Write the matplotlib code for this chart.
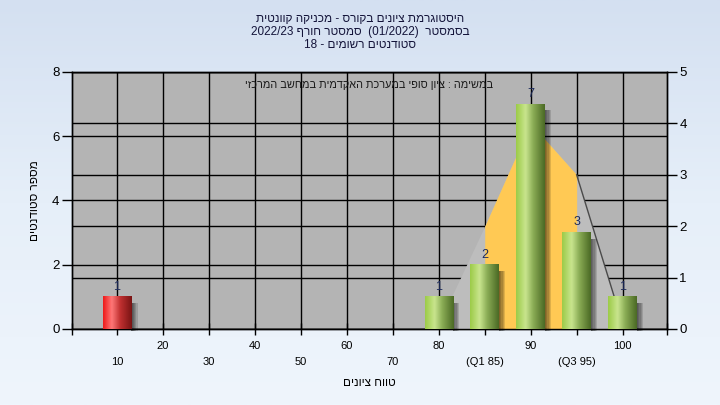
import numpy as np
import matplotlib
matplotlib.use("Agg")
import matplotlib.pyplot as plt
from matplotlib.colors import LinearSegmentedColormap
from matplotlib.patches import Rectangle

plt.rcParams["font.family"] = ["Liberation Sans", "DejaVu Sans"]

# data
categories = ["10", "20", "30", "40", "50", "60", "70", "80", "(Q1 85)", "90", "(Q3 95)", "100"]
counts = [1, 0, 0, 0, 0, 0, 0, 1, 2, 7, 3, 1]
curve_idx = [7, 8, 9, 10, 11]
curve_vals = [0.1, 2.0, 4.0, 3.0, 0.1]   # right axis units
q1_idx, q3_idx = 8, 10
fail_idx = [0]


def rev(s):
    # matplotlib has no bidi, so give Hebrew in visual order
    return s[::-1]


title_lines = [
    rev("היסטוגרמת ציונים בקורס - מכניקה קוונטית"),
    "2022/23 " + rev("סמסטר חורף") + "  (01/2022)  " + rev("בסמסטר"),
    "18 - " + rev("סטודנטים רשומים"),
]
note = rev("במשימה : ציון סופי במערכת האקדמית במחשב המרכזי")
xlabel = rev("טווח ציונים")
ylabel = rev("מספר סטודנטים")

green = LinearSegmentedColormap.from_list(
    "g", [(0, "#9ccb48"), (0.33, "#c9e58e"), (0.6, "#8aac55"), (1, "#4b6a25")])
red = LinearSegmentedColormap.from_list(
    "r", [(0, "#ee1a1a"), (0.3, "#ff7878"), (0.6, "#c03030"), (1, "#7a1414")])

fig = plt.figure(figsize=(7.2, 4.05), dpi=100)

bg = fig.add_axes([0, 0, 1, 1], zorder=-10)
bg.imshow(np.linspace(0, 1, 256).reshape(-1, 1),
          cmap=LinearSegmentedColormap.from_list("bg", ["#d4e0f1", "#e6eff9", "#eff5fc"]),
          aspect="auto", extent=(0, 1, 0, 1))
bg.set_axis_off()

ax = fig.add_axes([0.1, 0.1877, 0.826, 0.6346])
ax2 = ax.twinx()
ax.set_zorder(ax2.get_zorder() + 1)
ax.patch.set_visible(False)
ax2.patch.set_visible(True)
ax2.patch.set_facecolor("#b4b4b4")

x = np.arange(len(categories))
width = 0.62

# gridlines
ax.set_axisbelow(True)
ax.grid(True, color="black", lw=1)
ax2.grid(True, axis="y", color="black", lw=1)

# normal-curve area (right axis scale) covering the grid
tr = ax2.transData
ax.fill_between(curve_idx, 0, curve_vals, color="#bdbdbd", lw=0, zorder=1, transform=tr)
sel = [i for i, c in enumerate(curve_idx) if q1_idx <= c <= q3_idx]
ax.fill_between([curve_idx[i] for i in sel], 0, [curve_vals[i] for i in sel],
                color="#ffc954", lw=0, zorder=1.1, transform=tr)
ax.plot(curve_idx[3:], curve_vals[3:], color="#4a4a4a", lw=1, zorder=1.2, transform=tr)

# cylinder-looking bars with a soft shadow on the right
grad = np.linspace(0, 1, 64).reshape(1, -1)
for i, c in zip(x, counts):
    if c == 0:
        continue
    x0 = i - width / 2
    for sw in (0.14, 0.11, 0.08, 0.05, 0.03):
        ax.add_patch(Rectangle((x0 + width, -0.07), sw, c - 0.12, color="black",
                               alpha=0.13, lw=0, zorder=2.5, clip_on=False))
    cmap = red if i in fail_idx else green
    ax.imshow(grad, cmap=cmap, extent=(x0, x0 + width, 0, c), aspect="auto",
              interpolation="bicubic", zorder=3)
    ax.annotate(str(c), (i, c), xytext=(0, 3), textcoords="offset points",
                ha="center", va="bottom", fontsize=9, color="#1c2a5a", zorder=4)

ax.set_xlim(-0.98, 11.96)
ax.set_ylim(0, 8)
ax2.set_ylim(0, 5)
ax.set_yticks([0, 2, 4, 6, 8])
ax2.set_yticks([0, 1, 2, 3, 4, 5])

ax.set_xticks(x)
labels = [("\n" + c if i % 2 == 0 else c) for i, c in enumerate(categories)]
ax.set_xticklabels(labels, fontsize=8, linespacing=1.75)
ax.set_xticks([-0.98, 11.96], minor=True)
ax.tick_params(axis="x", which="both", direction="inout", length=8, width=1, pad=5)
ax.tick_params(axis="y", direction="out", length=7, width=1, labelsize=9.5, pad=2)
ax2.tick_params(axis="y", direction="out", length=7, width=1, labelsize=9.5, pad=2)

for a in (ax, ax2):
    for s in a.spines.values():
        s.set_color("black")
        s.set_linewidth(1)

ax.text(0.5, 0.95, note, transform=ax.transAxes, ha="center", va="center",
        fontsize=7.8, color="#1a1a1a", zorder=5)

ax.set_xlabel(xlabel, fontsize=8.5, labelpad=7)
ax.set_ylabel(ylabel, fontsize=8.5, labelpad=8)

for k, line in enumerate(title_lines):
    fig.text(0.5, 1 - (18.5 + 13 * k) / 405, line, ha="center", va="center",
             fontsize=8.5, color="#14143a")

fig.savefig("out.png", dpi=100)
